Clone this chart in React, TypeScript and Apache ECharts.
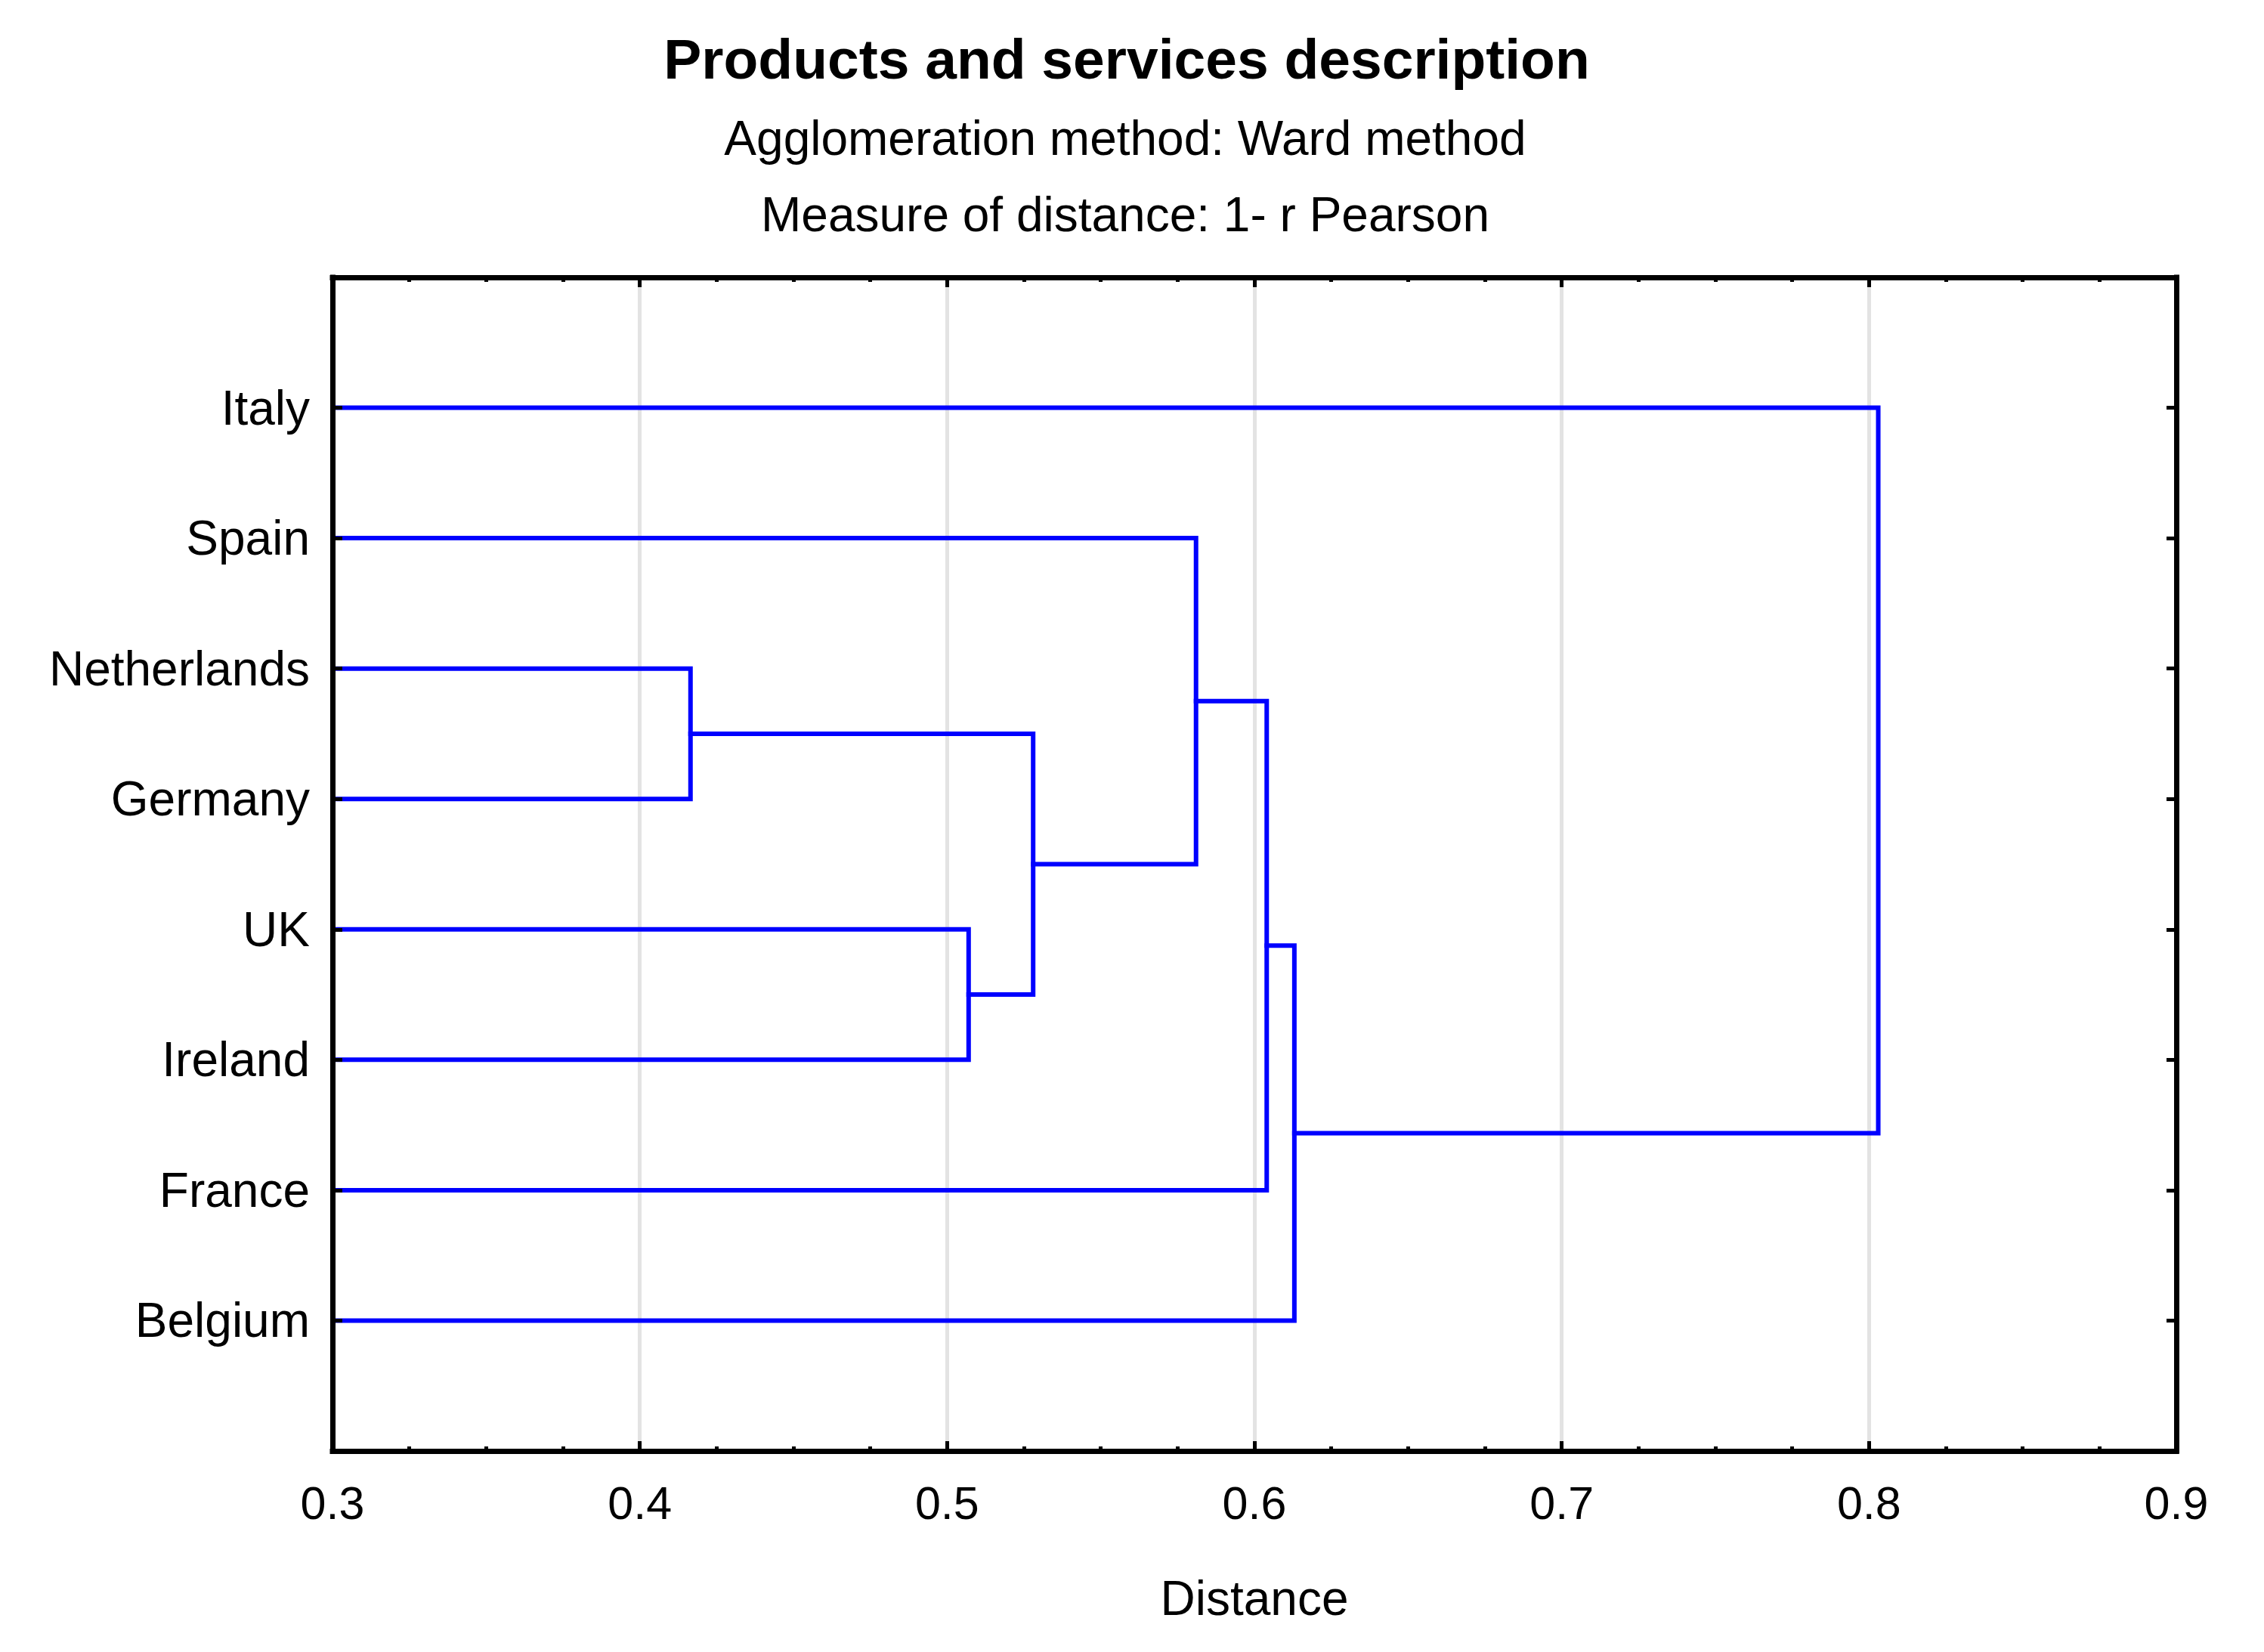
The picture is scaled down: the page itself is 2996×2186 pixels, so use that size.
import React, { useEffect, useRef } from "react";
import * as echarts from "echarts";

// ---- data ----
const titleText = "Products and services description";
const subtitle1 = "Agglomeration method: Ward method";
const subtitle2 = "Measure of distance: 1- r Pearson";
const xAxisName = "Distance";

// leaves, top to bottom
const leaves = ["Italy", "Spain", "Netherlands", "Germany", "UK", "Ireland", "France", "Belgium"];
// merges: cluster ids 0..7 are leaves, merge k creates cluster 8+k
const mergeLeft = [2, 4, 8, 1, 11, 12, 0];
const mergeRight = [3, 5, 9, 10, 6, 7, 13];
const mergeHeight = [0.4165, 0.507, 0.528, 0.581, 0.604, 0.613, 0.803];

const xMin = 0.3;
const xMax = 0.9;
const xInterval = 0.1;

const FONT = "'Liberation Sans', Arial, Helvetica, sans-serif";
const BLUE = "#0000ff";

function buildSeries() {
  const ys: number[] = leaves.map((_, i) => i + 1);
  const hs: number[] = leaves.map(() => xMin);
  const series: any[] = [];
  mergeHeight.forEach((h, k) => {
    const a = mergeLeft[k];
    const b = mergeRight[k];
    const data = [
      [hs[a], ys[a]],
      [h, ys[a]],
      [h, ys[b]],
      [hs[b], ys[b]],
    ];
    ys.push((ys[a] + ys[b]) / 2);
    hs.push(h);
    series.push({
      type: "line",
      xAxisIndex: 0,
      yAxisIndex: 0,
      data,
      symbol: "none",
      silent: true,
      z: 2,
      lineStyle: { color: BLUE, width: 6, cap: "square", join: "miter" },
    });
  });
  return series;
}

function textEl(text: string, x: number, y: number, size: number, bold: boolean) {
  return {
    type: "text",
    x,
    y,
    style: {
      text,
      fill: "#000",
      font: `${bold ? "bold " : ""}${size}px ${FONT}`,
      fontSize: size,
      fontWeight: bold ? "bold" : "normal",
      fontFamily: FONT,
      textAlign: "center",
      textVerticalAlign: "middle",
      align: "center",
      verticalAlign: "middle",
    },
  };
}

export default function App() {
  const ref = useRef<HTMLDivElement>(null);
  useEffect(() => {
    if (!ref.current) return;
    const chart = echarts.init(ref.current, undefined, { renderer: "svg" });
    const axisLine = { show: true, onZero: false, lineStyle: { color: "#000", width: 7, cap: "square" } };
    const tick = { show: true, inside: true, length: 13, lineStyle: { color: "#000", width: 5 } };
    const minor = { show: true, splitNumber: 4, length: 6, lineStyle: { color: "#000", width: 5 } };
    const xCommon = {
      type: "value",
      min: xMin,
      max: xMax,
      interval: xInterval,
    };
    const yCommon = {
      type: "value",
      min: 0,
      max: leaves.length + 1,
      interval: 1,
      inverse: true,
    };
    chart.setOption({
      animation: false,
      backgroundColor: "#ffffff",
      grid: { left: 440, right: 116, top: 367, bottom: 266, show: false },
      graphic: [
        textEl(titleText, 1491, 78, 75, true),
        textEl(subtitle1, 1489, 183, 64, false),
        textEl(subtitle2, 1489, 284, 64, false),
      ],
      xAxis: [
        {
          ...xCommon,
          position: "bottom",
          z: 0,
          name: xAxisName,
          nameLocation: "middle",
          nameGap: 163,
          nameTextStyle: { color: "#000", fontSize: 64, fontFamily: FONT },
          axisLine,
          axisTick: tick,
          minorTick: minor,
          axisLabel: {
            show: true,
            margin: 38,
            color: "#000",
            fontSize: 61,
            fontFamily: FONT,
            formatter: (v: number) => v.toFixed(1),
          },
          splitLine: { show: true, lineStyle: { color: "#e3e3e3", width: 5 } },
        },
        {
          ...xCommon,
          position: "top",
          z: 0,
          axisLine,
          axisTick: tick,
          minorTick: minor,
          axisLabel: { show: false },
          splitLine: { show: false },
        },
      ],
      yAxis: [
        {
          ...yCommon,
          position: "left",
          z: 3,
          axisLine,
          axisTick: tick,
          axisLabel: {
            show: true,
            margin: 30,
            color: "#000",
            fontSize: 64,
            fontFamily: FONT,
            formatter: (v: number) => leaves[Math.round(v) - 1] ?? "",
          },
          splitLine: { show: false },
        },
        {
          ...yCommon,
          position: "right",
          z: 3,
          axisLine,
          axisTick: tick,
          axisLabel: { show: false },
          splitLine: { show: false },
        },
      ],
      series: buildSeries(),
    });
    return () => chart.dispose();
  }, []);
  return (
    <div
      ref={ref}
      style={{ position: "fixed", left: 0, top: 0, width: 2996, height: 2186, background: "#fff" }}
    />
  );
}
